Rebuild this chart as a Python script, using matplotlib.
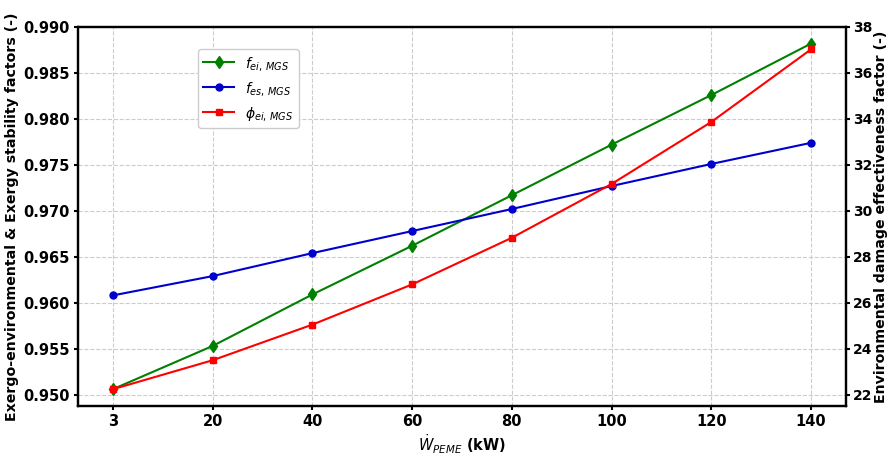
import numpy as np
import matplotlib
matplotlib.use("Agg")
from matplotlib import pyplot as plt

# power levels (kW), shown as equally spaced categories
power = ["3", "20", "40", "60", "80", "100", "120", "140"]

f_ei = [0.9506, 0.9553, 0.9609, 0.9662, 0.9717, 0.9772, 0.9826, 0.9882]
f_es = [0.9608, 0.9629, 0.9654, 0.9678, 0.9702, 0.9727, 0.9751, 0.9774]
phi_ei = [22.24, 23.50, 25.05, 26.80, 28.83, 31.17, 33.87, 37.03]

left_ticks = [0.950, 0.955, 0.960, 0.965, 0.970, 0.975, 0.980, 0.985, 0.990]
right_ticks = [22, 24, 26, 28, 30, 32, 34, 36, 38]

plt.rcParams['font.family'] = 'DejaVu Sans'

fig = plt.figure(figsize=(8.9, 4.55), dpi=100)
ax = fig.add_axes([0.0876, 0.1077, 0.8630, 0.8330])
ax2 = ax.twinx()

x = np.arange(len(power))

l1, = ax.plot(x, f_ei, color='green', marker='d', markersize=6, linewidth=1.5,
              label=r'$f_{ei,\,MGS}$')
l2, = ax.plot(x, f_es, color='mediumblue', marker='o', markersize=5, linewidth=1.5,
              label=r'$f_{es,\,MGS}$')
l3, = ax2.plot(x, phi_ei, color='red', marker='s', markersize=5, linewidth=1.5,
               label=r'$\phi_{ei,\,MGS}$')

ax.set_xlim(-0.35, 7.35)
ax.set_ylim(0.94877, 0.990)
ax2.set_ylim(21.51, 38)

ax.set_xticks(x)
ax.set_xticklabels(power)
ax.set_yticks(left_ticks)
ax.set_yticklabels([f"{t:.3f}" for t in left_ticks])
ax2.set_yticks(right_ticks)

for a in (ax, ax2):
    a.tick_params(labelsize=10.5, width=1.5, length=3, pad=3)
    for lab in a.get_xticklabels() + a.get_yticklabels():
        lab.set_fontweight('bold')
    for sp in a.spines.values():
        sp.set_linewidth(1.6)
ax2.tick_params(labelsize=10, pad=2)

ax.grid(True, linestyle='--', color='#cccccc', linewidth=0.8)

ax.set_xlabel(r'$\dot{W}_{PEME}$ (kW)', fontsize=10.5, fontweight='bold', labelpad=2)
ax.set_ylabel('Exergo-environmental & Exergy stability factors (-)',
              fontsize=10.2, fontweight='bold', labelpad=3)
ax2.set_ylabel('Environmental damage effectiveness factor (-)',
               fontsize=10.2, fontweight='bold', labelpad=1)

ax.legend(handles=[l1, l2, l3], loc='upper left', bbox_to_anchor=(0.147, 0.96),
          fontsize=10, handlelength=2.2, framealpha=1)

fig.savefig("out.png", dpi=100)
